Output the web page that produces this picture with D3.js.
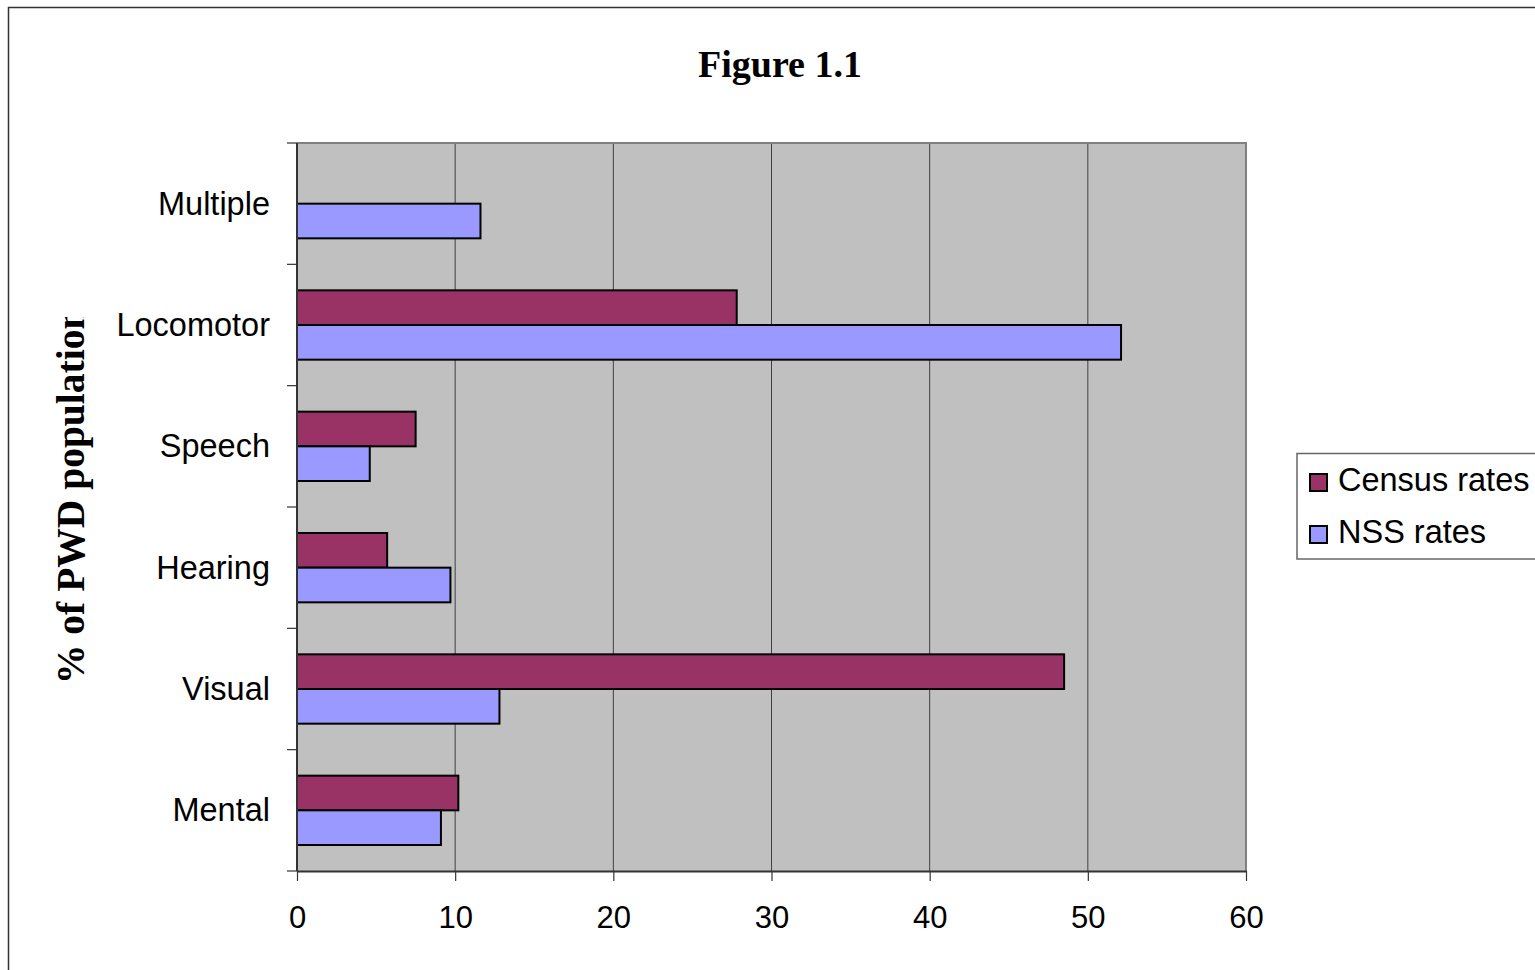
<!DOCTYPE html>
<html>
<head>
<meta charset="utf-8">
<script src="https://cdn.jsdelivr.net/npm/d3@7"></script>
<style>
  body { margin: 0; background: #fff; }
  svg { display: block; }
  .cat, .tick-label, .legend-text { font-family: Arial, "Liberation Sans", sans-serif; fill: #000; }
  .serif { font-family: "Times New Roman", "Liberation Serif", serif; font-weight: bold; fill: #000; }
</style>
</head>
<body>
<script>
// chart data
const categories = ["Mental", "Visual", "Hearing", "Speech", "Locomotor", "Multiple"];
const seriesNames = ["Census rates", "NSS rates"];
const censusRates = [10.2, 48.5, 5.7, 7.5, 27.8, null];
const nssRates = [9.1, 12.8, 9.7, 4.6, 52.1, 11.6];
const xTicks = [0, 10, 20, 30, 40, 50, 60];
const colors = ["#993366", "#9999FF"];

const width = 1535, height = 970;
const plot = { left: 297, right: 1246, top: 143, bottom: 871 };

const svg = d3.select("body").append("svg")
    .attr("width", width)
    .attr("height", height);

// outer chart frame (runs off the page at right and bottom)
svg.append("rect")
    .attr("x", 8.5).attr("y", 7.5)
    .attr("width", 1700).attr("height", 1100)
    .attr("fill", "#fff")
    .attr("stroke", "#333")
    .attr("stroke-width", 1.5);

const x = d3.scaleLinear().domain([0, 60]).range([plot.left, plot.right]);
// Multiple on top, Mental at the bottom
const y = d3.scaleBand().domain(categories.slice().reverse())
    .range([plot.top, plot.bottom]).paddingInner(0).paddingOuter(0);
const groupH = y.bandwidth() / 1.75;
const inner = d3.scaleBand().domain(seriesNames).range([0, groupH]);

// plot background
svg.append("rect")
    .attr("x", plot.left).attr("y", plot.top)
    .attr("width", plot.right - plot.left).attr("height", plot.bottom - plot.top)
    .attr("fill", "#C0C0C0");

// vertical gridlines
svg.append("g").selectAll("line")
    .data(xTicks.slice(1, -1))
    .enter().append("line")
    .attr("x1", d => x(d)).attr("x2", d => x(d))
    .attr("y1", plot.top).attr("y2", plot.bottom)
    .attr("stroke", "#404040").attr("stroke-width", 1);

// plot border top / right
svg.append("path")
    .attr("d", `M${plot.left},${plot.top}H${plot.right}V${plot.bottom}`)
    .attr("fill", "none").attr("stroke", "#808080").attr("stroke-width", 2);

// bars
const rows = categories.map((c, i) => ({ cat: c, values: [censusRates[i], nssRates[i]] }));
const groups = svg.append("g").selectAll("g")
    .data(rows)
    .enter().append("g")
    .attr("transform", d => `translate(0,${y(d.cat) + (y.bandwidth() - groupH) / 2})`);

groups.selectAll("rect")
    .data(d => d.values.map((v, j) => ({ name: seriesNames[j], value: v, j })).filter(d => d.value != null))
    .enter().append("rect")
    .attr("x", x(0))
    .attr("y", d => inner(d.name))
    .attr("width", d => x(d.value) - x(0))
    .attr("height", inner.bandwidth())
    .attr("fill", d => colors[d.j])
    .attr("stroke", "#000")
    .attr("stroke-width", 2);

// x axis
const xAxis = svg.append("g")
    .attr("transform", `translate(0,${plot.bottom})`)
    .call(d3.axisBottom(x).tickValues(xTicks).tickSize(10).tickSizeOuter(0).tickFormat(d3.format("d")));
xAxis.select(".domain").attr("stroke", "#333").attr("stroke-width", 2);
xAxis.selectAll(".tick line").attr("stroke", "#333").attr("stroke-width", 1.2);
xAxis.selectAll(".tick text")
    .attr("class", "tick-label")
    .attr("font-size", 31)
    .attr("y", 57).attr("dy", 0);

// y axis: line and ticks at category boundaries
svg.append("line")
    .attr("x1", plot.left).attr("x2", plot.left)
    .attr("y1", plot.top).attr("y2", plot.bottom)
    .attr("stroke", "#333").attr("stroke-width", 2);
const bounds = y.domain().map(c => y(c)).concat([plot.bottom]);
svg.append("g").selectAll("line")
    .data(bounds)
    .enter().append("line")
    .attr("x1", plot.left - 10).attr("x2", plot.left)
    .attr("y1", d => d).attr("y2", d => d)
    .attr("stroke", "#333").attr("stroke-width", 1.2);

svg.append("g").selectAll("text")
    .data(categories)
    .enter().append("text")
    .attr("class", "cat")
    .attr("x", 270)
    .attr("y", d => y(d) + y.bandwidth() / 2 + 11)
    .attr("text-anchor", "end")
    .attr("font-size", 32.5)
    .text(d => d);

// title
svg.append("text")
    .attr("class", "serif")
    .attr("x", 780).attr("y", 77)
    .attr("text-anchor", "middle")
    .attr("font-size", 38)
    .text("Figure 1.1");

// y axis title, cut off at the top as in the original
svg.append("clipPath").attr("id", "ytitle-clip")
    .append("rect").attr("x", 0).attr("y", 317).attr("width", 200).attr("height", 500);
svg.append("g")
    .attr("clip-path", "url(#ytitle-clip)")
    .append("text")
    .attr("class", "serif")
    .attr("transform", "translate(84,684) rotate(-90)")
    .attr("font-size", 39.5)
    .text("% of PWD population");

// legend
const legend = svg.append("g");
legend.append("rect")
    .attr("x", 1297).attr("y", 453.5)
    .attr("width", 300).attr("height", 105.5)
    .attr("fill", "#fff").attr("stroke", "#666").attr("stroke-width", 1.5);
const items = legend.selectAll("g.item")
    .data(seriesNames)
    .enter().append("g")
    .attr("class", "item")
    .attr("transform", (d, i) => `translate(0,${i * 52})`);
items.append("rect")
    .attr("x", 1310).attr("y", 474)
    .attr("width", 17).attr("height", 17)
    .attr("fill", (d, i) => colors[i])
    .attr("stroke", "#000").attr("stroke-width", 2);
items.append("text")
    .attr("class", "legend-text")
    .attr("x", 1338).attr("y", 491)
    .attr("font-size", 32.5)
    .text(d => d);
</script>
</body>
</html>
